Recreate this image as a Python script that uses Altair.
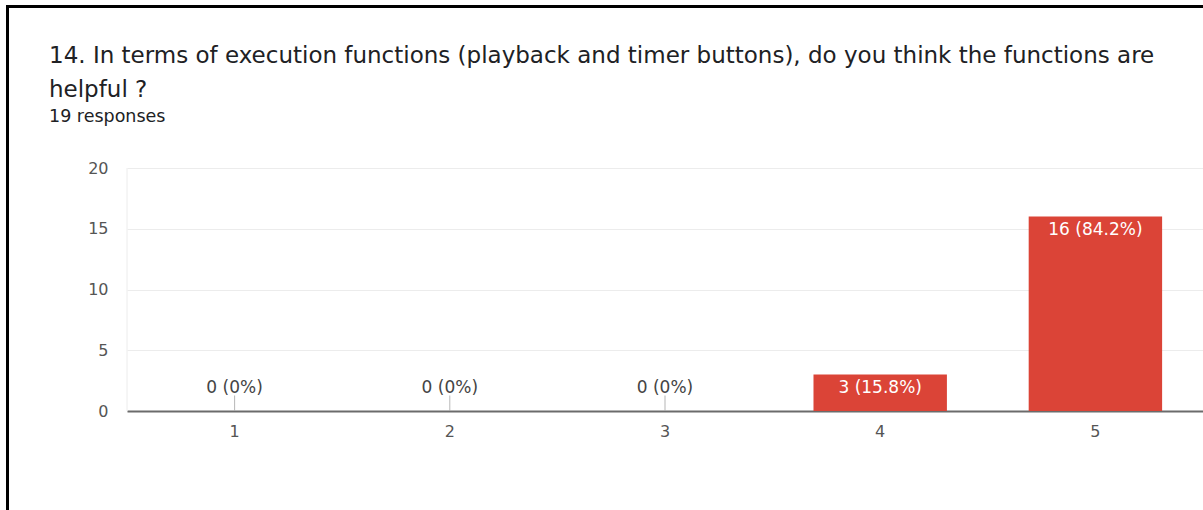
import altair as alt
import pandas as pd

# Survey answers on a 1-5 scale and how many respondents picked each
categories = ["1", "2", "3", "4", "5"]
counts = [0, 0, 0, 3, 16]
total_responses = 19

title_lines = [
    "14. In terms of execution functions (playback and timer buttons), do you think the functions are",
    "helpful ?",
]
subtitle = f"{total_responses} responses"
y_grid = [0, 2.5, 5, 7.5, 10, 12.5, 15, 17.5, 20]


def fmt_label(c):
    pct = round(c / total_responses * 100, 1)
    return f"{c} ({pct:g}%)"


df = pd.DataFrame({
    "answer": categories,
    "count": counts,
    "label": [fmt_label(c) for c in counts],
})

FONT = "DejaVu Sans"
RED = "#db4437"
PLOT_W, PLOT_H = 1076, 243
PAD_L, PAD_T = 127, 168

x_enc = alt.X(
    "answer:N",
    sort=categories,
    scale=alt.Scale(paddingInner=0.38, paddingOuter=0.19),
    axis=alt.Axis(
        title=None, labelAngle=0, ticks=False, domainColor="#6b6b6b", domainWidth=2,
        labelFont=FONT, labelFontSize=16, labelColor="#555555", labelPadding=12,
        grid=False,
    ),
)
y_enc = alt.Y(
    "count:Q",
    scale=alt.Scale(domain=[0, 20], nice=False),
    axis=alt.Axis(
        title=None, values=y_grid, domain=False, ticks=False,
        labelExpr="datum.value % 5 == 0 ? datum.label : ''",
        labelFont=FONT, labelFontSize=16, labelColor="#555555", labelPadding=19,
        gridColor="#ececec", gridWidth=1,
    ),
)

base = alt.Chart(df)

bars = base.mark_bar(color=RED).encode(x=x_enc, y=y_enc)

inside_labels = base.transform_filter("datum.count > 0").mark_text(
    baseline="top", dy=5, color="white", font=FONT, fontSize=17
).encode(x=alt.X("answer:N", sort=categories), y="count:Q", text="label:N")

zero_labels = base.transform_filter("datum.count == 0").mark_text(
    baseline="alphabetic", dy=-18, color="#444444", font=FONT, fontSize=17
).encode(x=alt.X("answer:N", sort=categories), y="count:Q", text="label:N")

# short leader line joining each zero label to the axis
stems = base.transform_filter("datum.count == 0").mark_tick(
    orient="vertical", size=15, thickness=1, color="#999999", yOffset=-8
).encode(x=alt.X("answer:N", sort=categories), y="count:Q")

one = alt.Chart(pd.DataFrame({"k": [0]}))

# faint left edge of the plotting area
left_edge = one.mark_rule(color="#ececec", strokeWidth=1).encode(
    x=alt.value(0), y=alt.value(0), y2=alt.value(PLOT_H)
)

# black frame along the top and left of the card
frame_top = one.mark_rule(color="black", strokeWidth=3).encode(
    x=alt.value(6 - PAD_L), x2=alt.value(PLOT_W), y=alt.value(6.5 - PAD_T)
)
frame_left = one.mark_rule(color="black", strokeWidth=3).encode(
    x=alt.value(7.5 - PAD_L), y=alt.value(5 - PAD_T), y2=alt.value(510 - PAD_T)
)

# question heading and response count, left-aligned inside the card
TEXT_X = 49 - PAD_L
heading_1 = one.mark_text(
    text=title_lines[0], align="left", baseline="alphabetic",
    font=FONT, fontSize=23, color="#202124",
).encode(x=alt.value(TEXT_X), y=alt.value(63 - PAD_T))
heading_2 = one.mark_text(
    text=title_lines[1], align="left", baseline="alphabetic",
    font=FONT, fontSize=23, color="#202124",
).encode(x=alt.value(TEXT_X), y=alt.value(97 - PAD_T))
responses = one.mark_text(
    text=subtitle, align="left", baseline="alphabetic",
    font=FONT, fontSize=17.5, color="#202124",
).encode(x=alt.value(TEXT_X), y=alt.value(122 - PAD_T))

chart = alt.layer(
    left_edge, bars, stems, zero_labels, inside_labels,
    heading_1, heading_2, responses, frame_top, frame_left,
).properties(
    width=PLOT_W,
    height=PLOT_H,
    padding={"left": PAD_L, "top": PAD_T, "right": 0, "bottom": 510 - PAD_T - PLOT_H},
    autosize=alt.AutoSizeParams(type="none"),
    background="white",
).configure_view(stroke=None)

chart.save("out.html", embed_options={"renderer": "svg", "actions": False})
